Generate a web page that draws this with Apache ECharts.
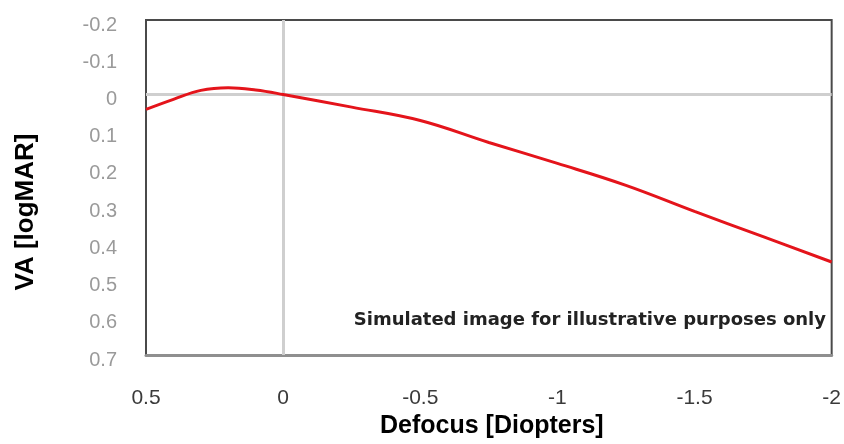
<!DOCTYPE html>
<html>
<head>
<meta charset="utf-8">
<style>html,body{margin:0;padding:0;background:#fff}#c{width:844px;height:444px}</style>
<script src="https://cdn.jsdelivr.net/npm/echarts@6/dist/echarts.min.js"></script>
</head>
<body>
<div id="c"></div>
<script>
var defocus = [0.5, 0.4, 0.3, 0.2, 0.1, 0, -0.25, -0.5, -0.75, -1, -1.25, -1.5, -1.75, -2];
var va = [0.04, 0.013, -0.011, -0.018, -0.012, 0.0, 0.034, 0.07, 0.129, 0.185, 0.244, 0.314, 0.382, 0.45];
var xTicks = {min: -2, max: 0.5, interval: 0.5};
var yTicks = {min: -0.2, max: 0.7, interval: 0.1};
var xTitle = 'Defocus [Diopters]';
var yTitle = 'VA [logMAR]';
var note = 'Simulated image for illustrative purposes only';

var chart = echarts.init(document.getElementById('c'), null, {renderer: 'canvas'});
var pts = defocus.map(function (d, i) { return [d, va[i]]; });
chart.setOption({
  animation: false,
  backgroundColor: '#fff',
  grid: {left: 146, right: 12, top: 20, bottom: 86, show: true, borderColor: '#4a4a4a', borderWidth: 2, backgroundColor: 'transparent'},
  xAxis: {
    type: 'value', inverse: true, min: xTicks.min, max: xTicks.max, interval: xTicks.interval,
    name: xTitle, nameLocation: 'middle', nameGap: 58,
    nameTextStyle: {fontFamily: 'Liberation Sans', fontWeight: 'bold', fontSize: 25, color: '#000', padding: [0, 0, 0, 6]},
    axisLine: {show: true, onZero: false, lineStyle: {color: '#8f8f8f', width: 3}},
    axisTick: {show: false},
    splitLine: {show: false},
    axisLabel: {margin: 33, fontFamily: 'Liberation Sans', fontSize: 21, color: '#3a3a3a',
      formatter: function (v) { return String(Math.round(v * 10) / 10); }}
  },
  yAxis: {
    type: 'value', inverse: true, min: yTicks.min, max: yTicks.max, interval: yTicks.interval,
    axisLine: {show: true, lineStyle: {color: '#4a4a4a', width: 2}},
    axisTick: {show: false},
    splitLine: {show: false},
    axisLabel: {margin: 29, fontFamily: 'Liberation Sans', fontSize: 20, color: '#9a9a9a',
      verticalAlign: 'top', lineHeight: 10,
      formatter: function (v) { return String(Math.round(v * 10) / 10); }}
  },
  series: [{
    type: 'line', data: pts, smooth: 0.4, symbol: 'none',
    lineStyle: {color: '#e4141b', width: 3},
    z: 5,
    markLine: {
      silent: true, symbol: 'none', label: {show: false},
      lineStyle: {color: '#cfcfcf', width: 3, type: 'solid'},
      data: [{yAxis: 0}, {xAxis: 0}],
      z: 1
    }
  }],
  graphic: [{
    type: 'text', right: 18, top: 311,
    style: {text: note, font: 'bold 18px "DejaVu Sans"', fill: '#222'}
  }, {
    type: 'text', x: 26, y: 212, rotation: Math.PI / 2,
    style: {text: yTitle, font: 'bold 26px "Liberation Sans"', fill: '#000', align: 'center', verticalAlign: 'middle'}
  }]
});
</script>
</body>
</html>
